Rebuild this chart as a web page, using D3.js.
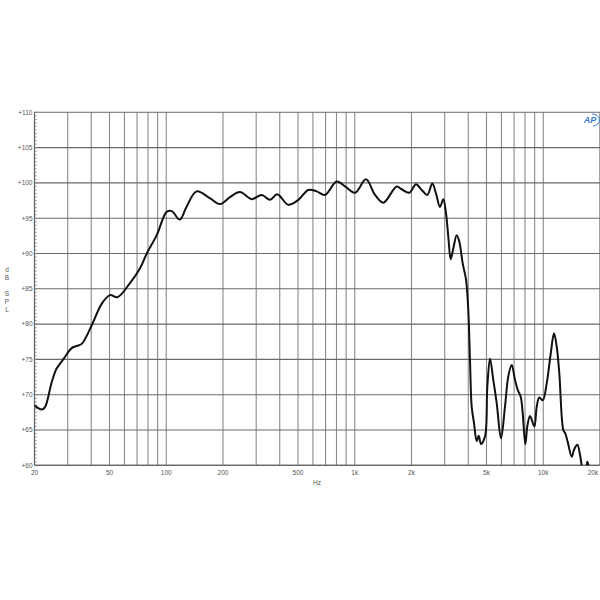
<!DOCTYPE html>
<html><head><meta charset="utf-8">
<script src="https://cdn.jsdelivr.net/npm/d3@7"></script>
<style>body{margin:0;background:#fff}svg{display:block}</style>
</head><body>
<svg id="c" width="600" height="600"></svg>
<script>
const freqs = [20,21.8,22.7,24.7,26.2,28.4,31.5,33.5,35.6,40.2,45.5,50.3,55,64.2,72.6,78.8,89,100.5,107,118,128,145,171,193,218,246,284,321,355,388,444,502,567,628,695,802,888,1003,1147,1281,1417,1669,1774,1946,2114,2266,2426,2578,2698,2833,2950,3048,3135,3228,3332,3474,3586,3738,3892,4002,4086,4172,4290,4436,4546,4676,4910,5050,5218,5432,5662,5968,6266,6524,6802,7082,7318,7592,7780,8032,8230,8506,8966,9232,9528,9932,10430,10952,11404,11786,12168,12778,13094,13484,14158,14562,15158,15666,15994,16250,16754,17126,17550,18000];
const spl = [68.5,67.9,68.2,71.8,73.7,75.0,76.6,76.9,77.2,79.8,82.9,84.1,83.8,85.8,87.9,90.0,92.6,95.9,96.0,94.8,96.6,98.8,97.8,97.0,98.0,98.7,97.7,98.3,97.6,98.4,96.9,97.6,99.0,98.8,98.3,100.2,99.5,98.6,100.5,98.3,97.2,99.5,99.1,98.6,99.8,99.0,98.3,99.9,98.5,96.6,97.7,95.7,92.4,89.2,90.7,92.6,91.7,88.6,86.3,82.0,74.9,68.3,66.0,63.4,64.2,63.0,64.1,71.1,75.1,72.1,68.8,63.8,68.3,72.6,74.2,72.1,70.7,69.7,67.4,63.0,65.5,67.0,65.5,68.3,69.6,69.2,71.6,75.8,78.7,76.8,73.0,65.0,64.5,63.3,61.2,62.2,62.9,61.5,59.9,58.5,58.5,60.5,59.5,58.0];
const yTicks = [60,65,70,75,80,85,90,95,100,105,110];
const yTickLabels = ["+60","+65","+70","+75","+80","+85","+90","+95","+100","+105","+110"];
const xTicks = [20,50,100,200,500,1000,2000,5000,10000,20000];
const xTickLabels = ["20","50","100","200","500","1k","2k","5k","10k","20k"];
const gridFreqs = [];
[10,100,1000,10000].forEach(d=>{for(let m=1;m<=9;m++){const f=m*d; if(f>=20&&f<=20000) gridFreqs.push(f);}});
gridFreqs.push(20000);
const yLabel = ["d","B","","S","P","L"];

const svg = d3.select("#c");
const L=34.5, R=600, T=112.3, B=465.3;
const x = d3.scaleLog().domain([20,20000]).range([L,R]);
const y = d3.scaleLinear().domain([60,110]).range([B,T]);

svg.append("defs").append("clipPath").attr("id","pc").append("rect")
  .attr("x",L).attr("y",T).attr("width",R-L).attr("height",B-T);

const g = svg.append("g");
g.selectAll("line.vg").data(gridFreqs).join("line")
  .attr("x1",d=>x(d)).attr("x2",d=>x(d)).attr("y1",T).attr("y2",B)
  .attr("stroke","#8a8a8a").attr("stroke-width",1.1);
g.selectAll("line.hg").data(yTicks).join("line")
  .attr("x1",L).attr("x2",R).attr("y1",d=>y(d)).attr("y2",d=>y(d))
  .attr("stroke","#6a6a6a").attr("stroke-width",1.1);
// minor ticks on the left axis
const minor = d3.range(60,110.01,0.5);
g.selectAll("line.mt").data(minor).join("line")
  .attr("x1",L).attr("x2",L+2.5).attr("y1",d=>y(d)).attr("y2",d=>y(d))
  .attr("stroke","#888").attr("stroke-width",0.7);
// frame
g.append("line").attr("x1",L).attr("x2",L).attr("y1",T).attr("y2",B).attr("stroke","#666").attr("stroke-width",1.2);
g.append("line").attr("x1",L).attr("x2",R).attr("y1",B).attr("y2",B).attr("stroke","#666").attr("stroke-width",1.2);

// labels
svg.selectAll("text.yl").data(yTicks).join("text")
  .attr("x",L-2).attr("y",d=>y(d)+2.3).attr("text-anchor","end")
  .attr("font-family","Liberation Sans, Arial, sans-serif").attr("font-size",6.5).attr("fill","#555")
  .text((d,i)=>yTickLabels[i]);
svg.selectAll("text.xl").data(xTicks).join("text")
  .attr("x",d=>d===20000?593:x(d)).attr("y",B+10).attr("text-anchor","middle")
  .attr("font-family","Liberation Sans, Arial, sans-serif").attr("font-size",6.5).attr("fill","#555")
  .text((d,i)=>xTickLabels[i]);
svg.append("text").attr("x",317).attr("y",485).attr("text-anchor","middle")
  .attr("font-family","Liberation Sans, Arial, sans-serif").attr("font-size",6.5).attr("fill","#555").text("Hz");
svg.selectAll("text.ylab").data(yLabel).join("text")
  .attr("x",7).attr("y",(d,i)=>272+i*8).attr("text-anchor","middle")
  .attr("font-family","Liberation Sans, Arial, sans-serif").attr("font-size",6.5).attr("fill","#555")
  .text(d=>d);

// AP logo
const logo = svg.append("g").attr("transform","translate(590,120)");
logo.append("text").attr("x",0).attr("y",3).attr("text-anchor","middle")
  .attr("font-family","Liberation Sans, Arial, sans-serif").attr("font-size",9).attr("font-style","italic")
  .attr("font-weight","bold").attr("fill","#3a7bd5").text("AP");
logo.append("path").attr("d","M 2 -6 A 7 6 0 0 1 3 6").attr("fill","none").attr("stroke","#3a7bd5").attr("stroke-width",1);

// curve
const data = freqs.map((f,i)=>[f,spl[i]]);
const line = d3.line().x(d=>x(d[0])).y(d=>y(d[1])).curve(d3.curveCatmullRom.alpha(0.5));
svg.append("path").attr("clip-path","url(#pc)").datum(data).attr("d",line)
  .attr("fill","none").attr("stroke","#111").attr("stroke-width",2).attr("stroke-linejoin","round");
</script>
</body></html>
